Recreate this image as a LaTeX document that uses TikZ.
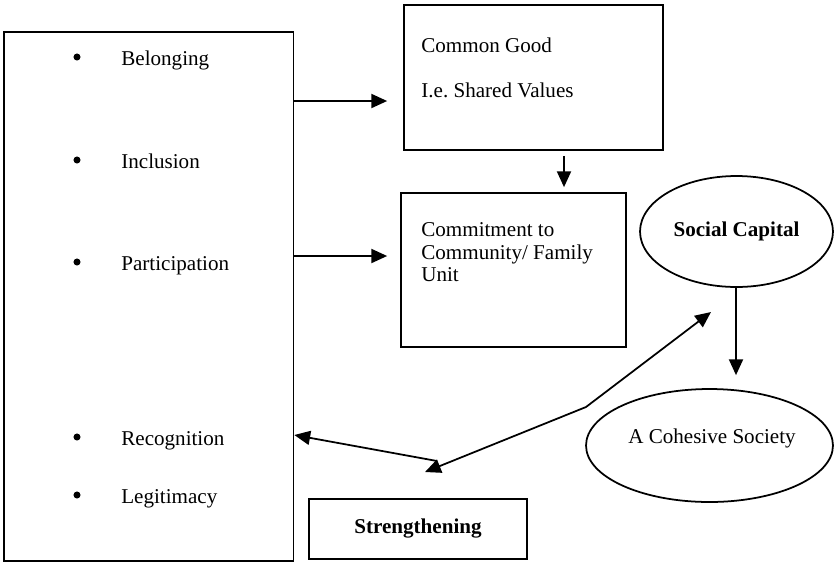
\documentclass[12pt,tikz,border=0pt]{standalone}
\usepackage{fontspec}
\setmainfont{Liberation Serif}
\usetikzlibrary{positioning,arrows.meta,shapes.geometric}

\tikzset{
  box/.style={draw,line width=1pt,inner sep=0pt},
  oval/.style={ellipse,draw,line width=1pt,inner sep=0pt},
  dot/.style={circle,fill,inner sep=0pt,minimum size=4pt},
  arr/.style={line width=1pt,-{Triangle[length=9pt,width=8pt]}},
  twoarr/.style={line width=1pt,{Triangle[length=9pt,width=8pt]}-{Triangle[length=9pt,width=8pt]}},
}

\begin{document}
\begin{tikzpicture}[x=0.02cm,y=-0.02cm]
  \useasboundingbox (0,0) rectangle (835,562);

  % left column of factors
  \node[box,minimum width=5.79cm,minimum height=10.58cm] (factors) at (148.75,296.5) {};
  \foreach \y/\word in {65/Belonging,168/Inclusion,270/Participation,445/Recognition,503/Legitimacy}{
    \node[dot] (dot-\y) at (77,\y-8) {};
    \node[anchor=base west,inner sep=0pt] (item-\y) at (121,\y) {\word};
  }

  % boxes
  \node[box,minimum width=5.18cm,minimum height=2.9cm] (good) at (533.5,77.5) {};
  \node[anchor=base west,inner sep=0pt] (good-a) at (421,52) {Common Good};
  \node[anchor=base west,inner sep=0pt] (good-b) at (421,97) {I.e.\ Shared Values};

  \node[box,minimum width=4.5cm,minimum height=3.08cm] (commit) at (513.5,270) {};
  \node[anchor=north west,inner sep=0pt,align=left,font=\fontsize{12}{12.8}\selectfont]
    (commit-txt) at (421,222.6) {Commitment to\\Community/ Family\\Unit};

  \node[box,minimum width=4.36cm,minimum height=1.2cm,font=\bfseries] (strength) at (418,529) {Strengthening};

  % ovals
  \node[oval,minimum width=3.86cm,minimum height=2.22cm,font=\bfseries] (social) at (736.5,231.5) {Social Capital};
  \node[oval,minimum width=4.94cm,minimum height=2.26cm] (society) at (709.5,445.5) {};
  \node[anchor=base,inner sep=0pt] (society-txt) at (712,443) {A Cohesive Society};

  % connectors
  \draw[arr] (factors.east |- 0,101) -- ([xshift=-0.32cm]good.west |- 0,101);
  \draw[arr] (factors.east |- 0,256) -- ([xshift=-0.26cm]commit.west |- 0,256);
  \draw[arr] ([yshift=-0.1cm]good.south -| 564,0) -- ([yshift=0.1cm]commit.north -| 564,0);
  \draw[arr] (social.south -| 736,0) -- ([yshift=0.26cm]society.north -| 736,0);

  \coordinate (join) at (437,461);
  \coordinate (bend) at (586,407);
  \coordinate (tip) at (425,472);
  \coordinate (reach) at (711,312);
  \draw[arr] (join) -- (factors.east |- 0,435);
  \draw[twoarr] (tip) -- (bend) -- (reach);
\end{tikzpicture}
\end{document}
